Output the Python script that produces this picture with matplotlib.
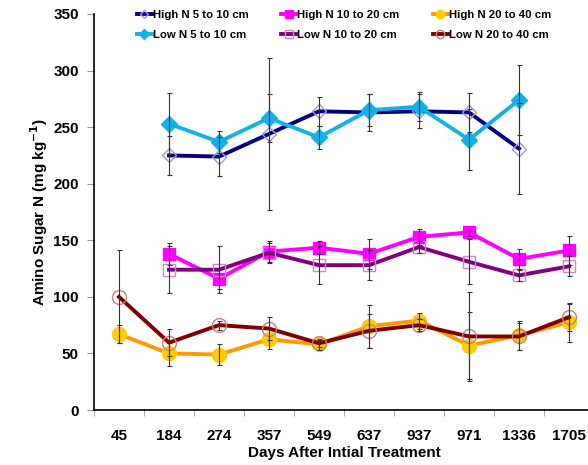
import matplotlib
matplotlib.use("Agg")
import matplotlib.pyplot as plt
import numpy as np

plt.rcParams['font.family'] = ['Liberation Sans', 'DejaVu Sans']
plt.rcParams['font.weight'] = 'bold'

nan = np.nan
days = ["45", "184", "274", "357", "549", "637", "937", "971", "1336", "1705"]

high_5_10 = [nan, 225, 224, 244, 264, 263, 264, 263, 231, nan]
high_5_10_err = [nan, 17, 17, 67, 13, 16, 15, 17, 40, nan]
low_5_10 = [nan, 253, 237, 258, 241, 265, 268, 239, 274, nan]
low_5_10_err = [nan, 27, 10, 21, 10, 14, 13, 27, 31, nan]

high_10_20 = [nan, 138, 116, 140, 143.5, 138, 153, 157, 133.5, 141]
high_10_20_err = [nan, 10, 9, 9, 6, 13, 7, 3, 9, 13]
low_10_20 = [nan, 124, 124, 139, 128, 128, 144, 131, 119, 127]
low_10_20_err = [nan, 21, 21, 9, 17, 13, 5, 20, 5, 9]

high_20_40 = [67, 50, 49, 62.5, 58, 74, 79, 57, 66, 77.5]
high_20_40_err = [8, 11, 9, 9, 5, 19, 7, 30, 13, 17]
low_20_40 = [100, 59.5, 75, 72, 59, 70, 75, 65, 65, 82]
low_20_40_err = [41, 12, 4, 10, 3, 15, 5, 39, 12, 12]

series = [
	# label, values, errors, line colour, marker, marker face, marker edge, marker size
	("High N 5 to 10 cm", high_5_10, high_5_10_err, "#000080", "D", "none", "#9a9ad8", 7),
	("Low N 5 to 10 cm", low_5_10, low_5_10_err, "#13b0ea", "D", "#13b0ea", "#13b0ea", 8),
	("High N 10 to 20 cm", high_10_20, high_10_20_err, "#ff00ff", "s", "#ff00ff", "#ff00ff", 9),
	("Low N 10 to 20 cm", low_10_20, low_10_20_err, "#800080", "s", "none", "#cc88cc", 9),
	("High N 20 to 40 cm", high_20_40, high_20_40_err, "#ff9900", "o", "#ffcc00", "#ffcc00", 10),
	("Low N 20 to 40 cm", low_20_40, low_20_40_err, "#800000", "o", "none", "#c88080", 10),
]

fig = plt.figure(figsize=(5.88, 4.65), dpi=100)
ax = fig.add_axes([94/588., 55/465., 500/588., 396/465.])

x = np.arange(len(days))
handles = []
for label, vals, errs, col, mk, mfc, mec, ms in series:
	h, = ax.plot(x, vals, color=col, lw=2.8, marker=mk, markerfacecolor=mfc,
		markeredgecolor=mec, markersize=ms, markeredgewidth=1.0, label=label, zorder=3)
	ax.errorbar(x, vals, yerr=errs, fmt="none", ecolor="#333333", elinewidth=0.8,
		capsize=1.8, capthick=0.8, zorder=4)
	handles.append(h)

ax.set_xlim(-0.5, len(days) - 0.5)
ax.set_ylim(0, 350)
ax.set_yticks(np.arange(0, 351, 50))
ax.set_xticks(x)
ax.set_xticklabels(days)
ax.set_xticks(np.arange(-0.5, len(days), 1), minor=True)
ax.tick_params(axis="x", which="major", length=0, pad=14, labelsize=11)
ax.tick_params(axis="x", which="minor", length=4, color="#999999")
ax.tick_params(axis="y", length=5, color="#999999", pad=6, labelsize=11)

for s in ["top", "right"]:
	ax.spines[s].set_visible(False)
ax.spines["left"].set_linewidth(1.2)
ax.spines["bottom"].set_linewidth(1.2)

ax.set_ylabel("Amino Sugar N (mg kg$^{\\mathbf{-1}}$)", fontsize=11, fontweight="bold", labelpad=2)
ax.set_xlabel("Days After Intial Treatment", fontsize=11, fontweight="bold", labelpad=2)

ax.legend(handles, [s[0] for s in series],
	ncol=3, loc="upper left", bbox_to_anchor=(0.065, 1.035), frameon=False,
	prop={"size": 8.2, "weight": "bold"}, handlelength=1.3, handletextpad=0.1,
	columnspacing=2.9, labelspacing=0.85, markerscale=0.6)

fig.savefig("out.png", dpi=100)
